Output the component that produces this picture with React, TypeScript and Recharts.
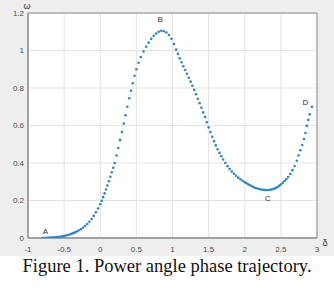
import { CartesianGrid, Scatter, ScatterChart, XAxis, YAxis } from 'recharts';

// delta (x) and omega (y) samples along the trajectory
const delta = [
  -0.8, -0.775, -0.75, -0.725, -0.7, -0.675, -0.65, -0.625, -0.6, -0.575, -0.55, -0.525, -0.5,
  -0.475, -0.45, -0.425, -0.4, -0.375, -0.35, -0.325, -0.3,
  -0.27, -0.24, -0.21, -0.18, -0.15, -0.12, -0.09, -0.06, -0.03, 0,
  0.02, 0.04, 0.06, 0.08, 0.1, 0.12, 0.14, 0.16, 0.18, 0.2, 0.225, 0.25, 0.275, 0.3, 0.325, 0.35,
  0.375, 0.4, 0.425, 0.45, 0.475, 0.5, 0.53, 0.56, 0.6,
  0.635, 0.67, 0.705, 0.74, 0.775, 0.81, 0.845, 0.88, 0.915, 0.95, 0.985, 1.02,
  1.05, 1.075, 1.1, 1.125, 1.15, 1.175, 1.2, 1.225, 1.25, 1.275, 1.3, 1.325, 1.35, 1.375, 1.4,
  1.425, 1.45, 1.475, 1.5, 1.525, 1.55, 1.575, 1.6, 1.625, 1.65, 1.675, 1.7,
  1.73, 1.76, 1.79, 1.82, 1.85, 1.88, 1.91, 1.94, 1.97, 2.0, 2.025, 2.05, 2.075, 2.1, 2.125,
  2.15, 2.175, 2.2, 2.225, 2.25, 2.275, 2.3, 2.325, 2.35, 2.375, 2.4, 2.425, 2.45, 2.475, 2.5,
  2.525, 2.55, 2.575, 2.6, 2.63, 2.66, 2.69,
  2.72, 2.745, 2.77, 2.795, 2.82, 2.84, 2.86, 2.88, 2.9, 2.93,
];
const omega = [
  0, 0, 0.001, 0.001, 0.002, 0.002, 0.003, 0.004, 0.005, 0.006, 0.007, 0.009, 0.01,
  0.013, 0.016, 0.019, 0.022, 0.026, 0.03, 0.035, 0.04,
  0.047, 0.055, 0.064, 0.075, 0.087, 0.101, 0.118, 0.137, 0.157, 0.18,
  0.198, 0.218, 0.238, 0.259, 0.28, 0.303, 0.327, 0.351, 0.375, 0.4, 0.44, 0.48, 0.522, 0.565,
  0.61, 0.655, 0.7, 0.745, 0.785, 0.825, 0.865, 0.9, 0.935, 0.965, 0.995,
  1.02, 1.042, 1.062, 1.078, 1.091, 1.1, 1.105, 1.103, 1.096, 1.083, 1.063, 1.035,
  1.005, 0.982, 0.958, 0.937, 0.916, 0.896, 0.876, 0.855, 0.834, 0.812, 0.79, 0.767, 0.743,
  0.719, 0.695, 0.67, 0.645, 0.617, 0.59, 0.565, 0.54, 0.516, 0.494, 0.473, 0.454, 0.436, 0.419,
  0.4, 0.383, 0.368, 0.355, 0.343, 0.332, 0.322, 0.313, 0.305, 0.298, 0.292, 0.286, 0.281,
  0.276, 0.271, 0.267, 0.264, 0.261, 0.259, 0.257, 0.256, 0.256, 0.256, 0.257, 0.259, 0.262,
  0.266, 0.271, 0.278, 0.285, 0.294, 0.304, 0.314, 0.325, 0.342, 0.362, 0.384,
  0.412, 0.44, 0.468, 0.496, 0.528, 0.56, 0.598, 0.63, 0.66, 0.7,
];

const markNames = ['A', 'B', 'C', 'D'];
const markDelta = [-0.76, 0.83, 2.32, 2.84];
const markOmega = [0.035, 1.163, 0.213, 0.725];

const xTicks = [-1, -0.5, 0, 0.5, 1, 1.5, 2, 2.5, 3];
const yTicks = [0, 0.2, 0.4, 0.6, 0.8, 1, 1.2];

const points = delta.map((d, i) => ({ d, w: omega[i] }));
const marks = markNames.map((name, i) => ({ d: markDelta[i], w: markOmega[i], name }));

const axisColor = '#8a8a8a';
const tickFont = { fontSize: 8, fill: '#4d4d4d', fontFamily: 'Liberation Sans, Arial, sans-serif' };
const noLabel = () => <g />;

const Dot = (props: any) => <circle cx={props.cx} cy={props.cy} r={1.3} fill="#2f84c6" />;

const MarkText = (props: any) => (
  <text
    x={props.cx}
    y={props.cy}
    textAnchor="middle"
    dominantBaseline="central"
    fontSize={8}
    fill="#333"
    fontFamily="Liberation Sans, Arial, sans-serif"
  >
    {props.payload.name}
  </text>
);

export default function App() {
  return (
    <div style={{ position: 'absolute', left: 0, top: 0, width: 334, height: 290, background: '#fff' }}>
      <div style={{ position: 'absolute', left: 0, top: 0, width: 334, height: 256, background: '#eeeeee' }}>
        <ScatterChart width={334} height={258} margin={{ top: 13, right: 17, bottom: 0, left: 0 }}>
          <CartesianGrid stroke="#e3e3e3" strokeWidth={1} fill="#fff" />
          <XAxis
            type="number"
            dataKey="d"
            domain={[-1, 3]}
            ticks={xTicks}
            height={20}
            tickLine={false}
            tickSize={0}
            tickMargin={8}
            stroke={axisColor}
            tick={tickFont}
            allowDataOverflow
          />
          <XAxis
            xAxisId="top"
            type="number"
            dataKey="d"
            domain={[-1, 3]}
            ticks={xTicks}
            orientation="top"
            mirror
            tickSize={3}
            stroke={axisColor}
            tick={noLabel}
          />
          <XAxis
            xAxisId="bottomTicks"
            type="number"
            dataKey="d"
            domain={[-1, 3]}
            ticks={xTicks}
            mirror
            tickSize={3}
            stroke={axisColor}
            tick={noLabel}
          />
          <YAxis
            type="number"
            dataKey="w"
            domain={[0, 1.2]}
            ticks={yTicks}
            width={28}
            tickLine={false}
            tickSize={0}
            tickMargin={4}
            stroke={axisColor}
            tick={tickFont}
            allowDataOverflow
          />
          <YAxis
            yAxisId="right"
            type="number"
            dataKey="w"
            domain={[0, 1.2]}
            ticks={yTicks}
            orientation="right"
            mirror
            tickSize={3}
            stroke={axisColor}
            tick={noLabel}
          />
          <YAxis
            yAxisId="leftTicks"
            type="number"
            dataKey="w"
            domain={[0, 1.2]}
            ticks={yTicks}
            mirror
            tickSize={3}
            stroke={axisColor}
            tick={noLabel}
          />
          <Scatter data={points} shape={Dot} isAnimationActive={false} />
          <Scatter data={marks} shape={MarkText} isAnimationActive={false} />
          <text x={27} y={6} textAnchor="middle" dominantBaseline="central" fontSize={9} fill="#333" fontFamily="Liberation Sans, Arial, sans-serif">
            ω
          </text>
          <text x={325} y={243} textAnchor="middle" dominantBaseline="central" fontSize={9} fill="#333" fontFamily="Liberation Sans, Arial, sans-serif">
            δ
          </text>
        </ScatterChart>
      </div>
      <div
        style={{
          position: 'absolute',
          left: 0,
          top: 256,
          width: 334,
          textAlign: 'center',
          fontFamily: 'Liberation Serif, Times New Roman, serif',
          fontSize: 18.5,
          color: '#111',
          whiteSpace: 'nowrap',
        }}
      >
        Figure 1. Power angle phase trajectory.
      </div>
    </div>
  );
}
